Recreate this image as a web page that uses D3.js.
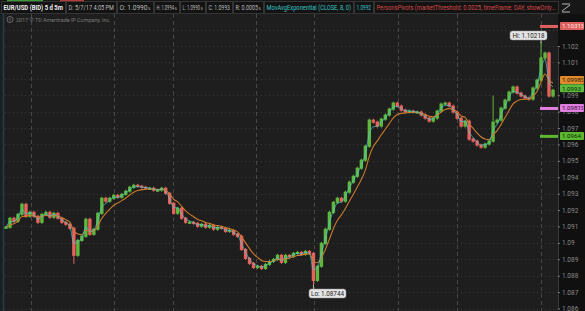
<!DOCTYPE html>
<html>
<head>
<meta charset="utf-8">
<script src="https://cdn.jsdelivr.net/npm/d3@7"></script>
<style>
  html, body { margin: 0; padding: 0; background: #1d1d1d; }
  svg { display: block; font-family: Roboto, "Liberation Sans", sans-serif; }
</style>
</head>
<body>
<svg id="chart" width="585" height="311"></svg>
<script>
// EUR/USD (BID) 5 d 5m, closes sampled along the session
var closes = [
  1.09095, 1.09150, 1.09131, 1.09174, 1.09235, 1.09162, 1.09186, 1.09162, 1.09125, 1.09174,
  1.09186, 1.09156, 1.09180, 1.09150, 1.09125, 1.09113, 1.09089, 1.08924, 1.09015, 1.09040,
  1.09144, 1.09052, 1.09083, 1.09180, 1.09272, 1.09254, 1.09272, 1.09290, 1.09278, 1.09296,
  1.09315, 1.09339, 1.09351, 1.09345, 1.09339, 1.09333, 1.09333, 1.09321, 1.09321, 1.09333,
  1.09302, 1.09241, 1.09180, 1.09211, 1.09150, 1.09125, 1.09125, 1.09119, 1.09101, 1.09113,
  1.09095, 1.09107, 1.09083, 1.09095, 1.09089, 1.09070, 1.09076, 1.09052, 1.09040, 1.08960,
  1.08905, 1.08875, 1.08850, 1.08857, 1.08844, 1.08869, 1.08887, 1.08899, 1.08924, 1.08881,
  1.08924, 1.08918, 1.08936, 1.08942, 1.08930, 1.08948, 1.08936, 1.08771, 1.08857, 1.08997,
  1.09083, 1.09186, 1.09247, 1.09272, 1.09254, 1.09309, 1.09370, 1.09406, 1.09455, 1.09504,
  1.09589, 1.09748, 1.09736, 1.09712, 1.09754, 1.09779, 1.09815, 1.09852, 1.09834, 1.09809,
  1.09797, 1.09803, 1.09797, 1.09797, 1.09779, 1.09760, 1.09742, 1.09760, 1.09803, 1.09846,
  1.09852, 1.09834, 1.09797, 1.09760, 1.09712, 1.09742, 1.09632, 1.09620, 1.09596, 1.09583,
  1.09602, 1.09620, 1.09736, 1.09748, 1.09821, 1.09870, 1.09919, 1.09950, 1.09913, 1.09895,
  1.09883, 1.09876, 1.09944, 1.09992, 1.10127, 1.10157, 1.09895, 1.09930
];
// wick extremes that stick out of the bodies: [bar index, price]
var wickHighs = [[122, 1.09889], [134, 1.10218]];
var wickLows = [[17, 1.08881], [77, 1.08744]];

// dashed session separators, in bar positions
var dividers = [6.25, 27, 41.75, 62.5, 77.25, 98.25, 113, 134];

var gridTicks = [1.086, 1.087, 1.088, 1.089, 1.09, 1.091, 1.092, 1.093, 1.094, 1.095,
  1.096, 1.097, 1.098, 1.099, 1.1, 1.101, 1.102, 1.103];
// labels hidden under the price tags are left out
var labelTicks = [1.086, 1.087, 1.088, 1.089, 1.09, 1.091, 1.092, 1.093, 1.094, 1.095,
  1.096, 1.097, 1.098, 1.099, 1.101, 1.102];

// PersonsPivots levels (value, colour, label)
var pivotValues = [1.1031, 1.0981, 1.0964];
var pivotColors = ['#e0605e', '#e07ee0', '#5cb82e'];
var pivotLabels = ['1.1031', '1.0981', '1.0964'];
var pivotSuffix = ['5', '5', ''];

var lastClose = 1.0993;
var slowAvgValue = 1.0998;
var hiValue = 1.10218, loValue = 1.08744;

var headerCells = [
  { text: 'EUR/USD (BID) 5 d 5m', x: 1, w: 64, color: '#f0f0f0', bold: true },
  { text: 'D: 5/7/17 4:05 PM', x: 66, w: 50, color: '#bdbdbd' },
  { text: 'O: 1.0990', sub: '5', x: 117, w: 36, color: '#bdbdbd' },
  { text: 'H: 1.0994', sub: '5', x: 154, w: 25, color: '#bdbdbd' },
  { text: 'L: 1.0990', sub: '5', x: 180, w: 25, color: '#bdbdbd' },
  { text: 'C: 1.0993', x: 206, w: 26, color: '#bdbdbd' },
  { text: 'R: 0.0005', sub: '5', x: 233, w: 30, color: '#bdbdbd' },
  { text: 'MovAvgExponential (CLOSE, 8, 0)', x: 264, w: 89, color: '#3cc6c6' },
  { text: '1.0992', x: 354, w: 19, color: '#3cc6c6' },
  { text: 'PersonsPivots (marketThreshold: 0.0025, timeFrame: DAY, showOnly...', x: 374, w: 184, color: '#d84a48' }
];

var W = 585, H = 311;
var svg = d3.select('#chart');

var plotLeft = 5, plotRight = 558;

var x = d3.scaleLinear().domain([0, closes.length - 1]).range([6, 553]);
var y = d3.scaleLinear().domain([1.086, 1.102]).range([308.5, 46]);

// backgrounds
svg.append('rect').attr('x', 0).attr('y', 0).attr('width', W).attr('height', H).attr('fill', '#1e1e1e');
svg.append('rect').attr('x', plotRight).attr('y', 14).attr('width', W - plotRight).attr('height', H - 14).attr('fill', '#101010');
svg.append('rect').attr('x', 0).attr('y', 0).attr('width', W).attr('height', 14).attr('fill', '#171717');
svg.append('line').attr('x1', 3.5).attr('x2', 3.5).attr('y1', 14).attr('y2', H)
  .attr('stroke', '#1d4155').attr('stroke-width', 1.5);

// grid
var grid = svg.append('g');
grid.selectAll('line.h').data(gridTicks).enter().append('line')
  .attr('x1', plotLeft).attr('x2', plotRight)
  .attr('y1', function (d) { return Math.round(y(d)) + 0.5; })
  .attr('y2', function (d) { return Math.round(y(d)) + 0.5; })
  .attr('stroke', '#3c3c3c').attr('stroke-dasharray', '1,3');
grid.selectAll('line.v').data(dividers).enter().append('line')
  .attr('x1', function (d) { return Math.round(x(d)) + 0.5; })
  .attr('x2', function (d) { return Math.round(x(d)) + 0.5; })
  .attr('y1', 14).attr('y2', H)
  .attr('stroke', '#474747').attr('stroke-dasharray', '4,3');

// candles
var bars = closes.map(function (c, i) {
  var o = i > 0 ? closes[i - 1] : c;
  return { i: i, open: o, close: c, high: Math.max(o, c), low: Math.min(o, c) };
});
wickHighs.forEach(function (w) { bars[w[0]].high = w[1]; });
wickLows.forEach(function (w) { bars[w[0]].low = w[1]; });

var up = '#5fb83c', down = '#e8625c';
var candles = svg.append('g');
candles.selectAll('line').data(bars).enter().append('line')
  .attr('x1', function (d) { return x(d.i); })
  .attr('x2', function (d) { return x(d.i); })
  .attr('y1', function (d) { return y(d.high) - 1.5; })
  .attr('y2', function (d) { return y(d.low) + 1.5; })
  .attr('stroke', function (d) { return d.close >= d.open ? up : down; })
  .attr('stroke-width', 1);
candles.selectAll('rect').data(bars).enter().append('rect')
  .attr('x', function (d) { return x(d.i) - 1.7; })
  .attr('width', 3.4)
  .attr('y', function (d) { return y(Math.max(d.open, d.close)) - 0.5; })
  .attr('height', function (d) { return Math.max(2, Math.abs(y(d.open) - y(d.close)) + 1); })
  .attr('fill', function (d) { return d.close >= d.open ? up : down; });

// exponential averages of the closes
function ema(values, alpha) {
  var out = [], prev = values[0];
  values.forEach(function (v) { prev = prev + alpha * (v - prev); out.push(prev); });
  return out;
}
var fast = ema(closes, 0.6), slow = ema(closes, 0.28);
var line = d3.line().x(function (d, i) { return x(i); }).y(function (d) { return y(d); }).curve(d3.curveMonotoneX);
svg.append('path').datum(slow).attr('d', line).attr('fill', 'none').attr('stroke', '#c97a2c').attr('stroke-width', 1.1);
svg.append('path').datum(fast).attr('d', line).attr('fill', 'none').attr('stroke', '#4cc9d6').attr('stroke-width', 0.9).attr('opacity', 0.8);

// price axis
var axis = svg.append('g').attr('transform', 'translate(' + plotRight + ',0)')
  .call(d3.axisRight(y).tickValues(labelTicks).tickSize(2).tickPadding(2).tickFormat(d3.format('.3~f')));
axis.select('.domain').attr('stroke', '#3a3a3a');
axis.selectAll('.tick line').attr('stroke', '#777');
axis.selectAll('.tick text').attr('fill', '#8c8c8c').style('font-size', '6.5px').style('font-family', 'Roboto, sans-serif');

// pivot lines and tags (tags sit a touch above their level, as in the platform)
var tags = svg.append('g');
pivotValues.forEach(function (v, k) {
  tags.append('rect').attr('x', 540).attr('y', y(v) - 3).attr('width', plotRight - 540).attr('height', 3).attr('fill', pivotColors[k]);
});

function tag(v, color, label, sub, textColor) {
  var g = tags.append('g');
  g.append('rect').attr('x', 560).attr('y', y(v) - 6).attr('width', 24).attr('height', 8).attr('rx', 1).attr('fill', color);
  var t = g.append('text').attr('x', 562).attr('y', y(v) + 0.3).attr('fill', textColor)
    .style('font-size', '6.2px').text(label);
  if (sub) t.append('tspan').style('font-size', '4.5px').text(sub);
}
tag(pivotValues[0], pivotColors[0], pivotLabels[0], pivotSuffix[0], '#fde6e6');
tag(slowAvgValue, '#e08a2c', '1.0998', '5', '#2a1a08');
tag(lastClose, '#5cba3c', '1.0993', '', '#0f2a08');
tag(pivotValues[1], pivotColors[1], pivotLabels[1], pivotSuffix[1], '#3a0f3a');
tag(pivotValues[2], pivotColors[2], pivotLabels[2], pivotSuffix[2], '#0f2a08');

// Hi / Lo bubbles
function bubble(i, v, label, bx, by) {
  svg.append('line').attr('x1', x(i)).attr('x2', x(i)).attr('y1', y(v)).attr('y2', by > y(v) ? by : by + 9)
    .attr('stroke', '#cfcfcf').attr('stroke-width', 0.8);
  svg.append('rect').attr('x', bx).attr('y', by).attr('width', 37).attr('height', 9).attr('rx', 2.5)
    .attr('fill', '#e4e4e4').attr('stroke', '#9a9a9a').attr('stroke-width', 0.5);
  svg.append('text').attr('x', bx + 18.5).attr('y', by + 6.7).attr('text-anchor', 'middle')
    .attr('fill', '#222').style('font-size', '6.3px').text(label);
}
bubble(wickHighs[1][0], hiValue, 'Hi: ' + hiValue, 510, 31);
bubble(wickLows[1][0], loValue, 'Lo: ' + loValue, 309, 289);

// header bar: squeeze each label horizontally to fit its cell
var header = svg.append('g');
headerCells.forEach(function (c) {
  header.append('rect').attr('x', c.x + 0.5).attr('y', 1.5).attr('width', c.w).attr('height', 12)
    .attr('fill', '#131313').attr('stroke', '#343434').attr('stroke-width', 1);
  var room = c.w - (c.sub ? 7.5 : 4.5);
  var t = header.append('text').attr('x', 0).attr('y', 0).attr('fill', c.color)
    .style('font-size', '6.6px').style('font-weight', c.bold ? 'bold' : 'normal').text(c.text);
  var len = t.node().getComputedTextLength();
  var sx = Math.min(1, room / len);
  t.attr('transform', 'translate(' + (c.x + 2.5) + ',10.2) scale(' + sx + ',1)');
  if (c.sub) {
    header.append('text').attr('x', c.x + 3 + len * sx).attr('y', 10.2).attr('fill', c.color)
      .style('font-size', '4.2px').text(c.sub);
  }
});
header.append('rect').attr('x', 7).attr('y', 0).attr('width', 36).attr('height', 1.2).attr('fill', '#3f9a3a');
header.append('rect').attr('x', 60).attr('y', 0).attr('width', 24).attr('height', 1.2).attr('fill', '#b73a3a');
// style icon
var icon = header.append('g').attr('transform', 'translate(561,3)');
icon.append('line').attr('x1', 1).attr('x2', 9).attr('y1', 1).attr('y2', 1).attr('stroke', '#ddd').attr('stroke-width', 0.8);
icon.append('line').attr('x1', 1).attr('x2', 9).attr('y1', 9).attr('y2', 9).attr('stroke', '#ddd').attr('stroke-width', 0.8);
icon.append('line').attr('x1', 1).attr('x2', 9).attr('y1', 8).attr('y2', 2).attr('stroke', '#ddd').attr('stroke-width', 0.8);

// copyright line
svg.append('circle').attr('cx', 10).attr('cy', 19.5).attr('r', 3).attr('fill', 'none').attr('stroke', '#8a8a8a').attr('stroke-width', 0.7);
svg.append('line').attr('x1', 10).attr('x2', 10).attr('y1', 18).attr('y2', 21).attr('stroke', '#8a8a8a').attr('stroke-width', 0.7);
svg.append('text').attr('x', 16).attr('y', 21.5).attr('fill', '#7a7a7a').style('font-size', '5.4px')
  .text('2017 \u00a9 TD Ameritrade IP Company, Inc.');
</script>
</body>
</html>
